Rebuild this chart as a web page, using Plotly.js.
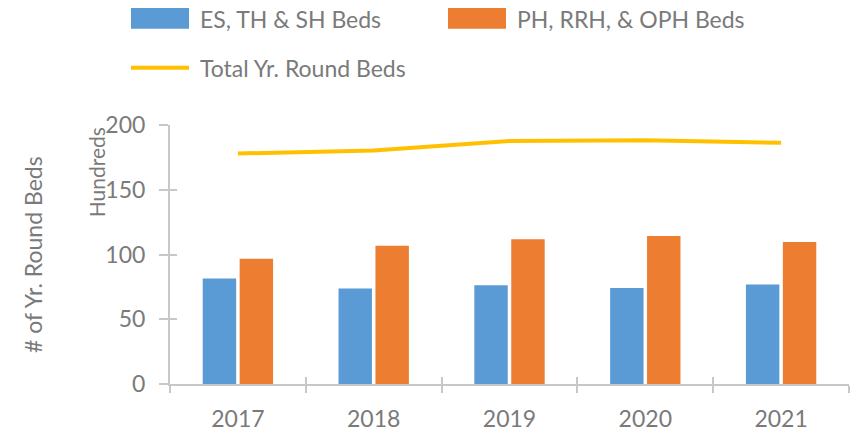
<!DOCTYPE html>
<html>
<head>
<meta charset="utf-8">
<script src="https://cdn.plot.ly/plotly-3.0.1.min.js"></script>
<style>html,body{margin:0;padding:0;background:#fff;}#chart{width:863px;height:437px;}</style>
</head>
<body>
<div id="chart"></div>
<script>
// Data (values in hundreds of beds)
const years = ['2017', '2018', '2019', '2020', '2021'];
const esThShBeds = [81.4, 73.7, 76.3, 74.2, 76.8];
const phRrhOphBeds = [96.8, 106.8, 111.7, 114.2, 109.6];
const totalYrRoundBeds = [178, 180.3, 187.6, 188.2, 186.2];
const seriesNames = ['ES, TH & SH Beds', 'PH, RRH, & OPH Beds', 'Total Yr. Round Beds'];
const yTicks = [0, 50, 100, 150, 200];

const FONT = 'Lato, "Open Sans", sans-serif';
const FS = 23;
const TXT = '#7a7a7a';
const AX = '#c8c8c8';
const BLUE = '#5B9BD5', ORANGE = '#ED7D31', YELLOW = '#FFC000';

// pixel helpers for plot area (x: 170..849, y: 124.5..384.5)
const L = 170, R = 849, T = 124.5, B = 384.5;
const px = x => (x - L) / (R - L);
const py = y => (B - y) / (B - T);

const traces = [
  {type: 'bar', x: years, y: esThShBeds, name: seriesNames[0], marker: {color: BLUE}, showlegend: false, hoverinfo: 'y'},
  {type: 'bar', x: years, y: phRrhOphBeds, name: seriesNames[1], marker: {color: ORANGE}, showlegend: false, hoverinfo: 'y'},
  {type: 'scatter', mode: 'lines', x: years, y: totalYrRoundBeds, name: seriesNames[2], line: {color: YELLOW, width: 4}, showlegend: false, hoverinfo: 'y'},
  // empty helper trace so the overlay axes (inner half of the crossing ticks) are drawn
  {type: 'scatter', mode: 'none', x: [], y: [], xaxis: 'x2', yaxis: 'y2', showlegend: false, hoverinfo: 'skip'}
];

const layout = {
  width: 863, height: 437,
  margin: {l: 170, r: 14, t: 124.5, b: 52.5},
  paper_bgcolor: '#fff', plot_bgcolor: '#fff',
  font: {family: FONT, color: TXT, size: FS},
  barmode: 'group', bargap: 0.456, bargroupgap: 0.095,
  showlegend: false,
  xaxis: {
    type: 'category', range: [-0.5, 4.5], fixedrange: true,
    showline: true, linecolor: AX, linewidth: 2,
    ticks: 'outside', tickson: 'boundaries', ticklen: 7, tickcolor: AX, tickwidth: 2,
    ticklabelstandoff: 13,
    tickfont: {family: FONT, size: FS, color: TXT},
    showgrid: false, zeroline: false
  },
  xaxis2: {
    overlaying: 'x', type: 'linear', range: [-0.5, 4.5], tick0: -0.5, dtick: 1,
    ticks: 'inside', ticklen: 7, tickcolor: AX, tickwidth: 2, showticklabels: false,
    showline: false, showgrid: false, zeroline: false, side: 'bottom', anchor: 'y'
  },
  yaxis: {
    range: [0, 200], tickvals: yTicks, fixedrange: true,
    showline: true, linecolor: AX, linewidth: 2,
    ticks: 'outside', ticklen: 9, tickcolor: AX, tickwidth: 2,
    ticklabelstandoff: 9,
    tickfont: {family: FONT, size: FS, color: TXT},
    showgrid: false, zeroline: false
  },
  yaxis2: {
    overlaying: 'y', range: [0, 200], tickvals: yTicks,
    ticks: 'inside', ticklen: 7, tickcolor: AX, tickwidth: 2, showticklabels: false,
    showline: false, showgrid: false, zeroline: false, side: 'left', anchor: 'x'
  },
  shapes: [
    {type: 'rect', xref: 'paper', yref: 'paper', x0: px(131), x1: px(189), y0: py(28), y1: py(7), fillcolor: BLUE, line: {width: 0}},
    {type: 'rect', xref: 'paper', yref: 'paper', x0: px(448), x1: px(506), y0: py(28), y1: py(7), fillcolor: ORANGE, line: {width: 0}},
    {type: 'line', xref: 'paper', yref: 'paper', x0: px(131), x1: px(189), y0: py(67), y1: py(67), line: {color: YELLOW, width: 4}}
  ],
  annotations: [
    {xref: 'paper', yref: 'paper', x: px(198), y: py(18), xanchor: 'left', yanchor: 'middle', showarrow: false, text: seriesNames[0], font: {family: FONT, size: FS, color: TXT}},
    {xref: 'paper', yref: 'paper', x: px(515), y: py(18), xanchor: 'left', yanchor: 'middle', showarrow: false, text: seriesNames[1], font: {family: FONT, size: FS, color: TXT}},
    {xref: 'paper', yref: 'paper', x: px(198), y: py(67), xanchor: 'left', yanchor: 'middle', showarrow: false, text: seriesNames[2], font: {family: FONT, size: FS, color: TXT}},
    {xref: 'paper', yref: 'paper', x: px(96), y: py(172), xanchor: 'center', yanchor: 'middle', showarrow: false, textangle: -90, text: 'Hundreds', font: {family: FONT, size: 21, color: TXT}},
    {xref: 'paper', yref: 'paper', x: px(33), y: py(255), xanchor: 'center', yanchor: 'middle', showarrow: false, textangle: -90, text: '# of Yr. Round Beds', font: {family: FONT, size: FS, color: TXT}}
  ]
};

Plotly.newPlot('chart', traces, layout, {displayModeBar: false, staticPlot: true});
</script>
</body>
</html>
